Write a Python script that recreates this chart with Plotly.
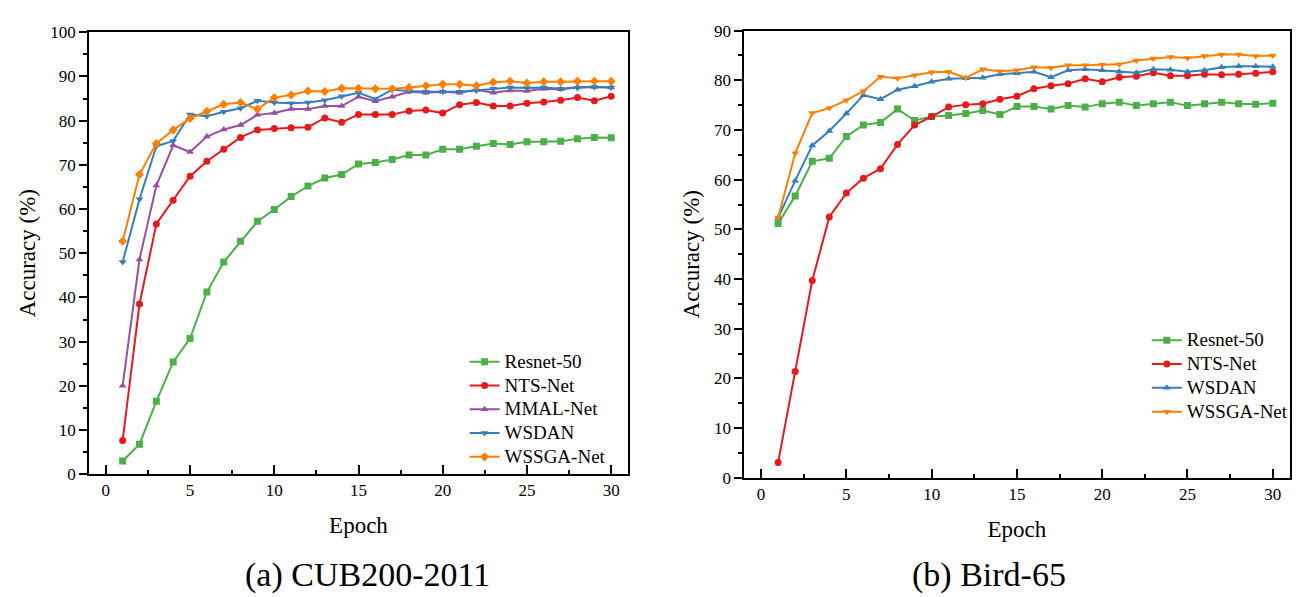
import plotly.graph_objects as go

epochs = list(range(1, 31))

# (a) CUB200-2011
cub_resnet50 = [3.0, 6.8, 16.5, 25.4, 30.7, 41.2, 48.0, 52.7, 57.2, 59.9, 62.8, 65.2, 67.0, 67.8, 70.2,
                70.5, 71.2, 72.2, 72.2, 73.5, 73.5, 74.2, 74.8, 74.6, 75.2, 75.2, 75.3, 75.9, 76.2, 76.1]
cub_nts = [7.6, 38.5, 56.6, 62.0, 67.4, 70.8, 73.5, 76.2, 77.9, 78.2, 78.4, 78.5, 80.6, 79.6, 81.4,
           81.4, 81.4, 82.2, 82.4, 81.7, 83.6, 84.1, 83.3, 83.3, 83.9, 84.2, 84.6, 85.2, 84.5, 85.5]
cub_mmal = [20.0, 48.6, 65.3, 74.4, 72.9, 76.4, 78.0, 79.0, 81.3, 81.7, 82.6, 82.6, 83.3, 83.3, 85.4,
            84.4, 85.4, 86.5, 86.3, 86.5, 86.3, 87.0, 86.3, 86.8, 86.7, 87.2, 87.1, 87.6, 87.6, 87.5]
cub_wsdan = [48.0, 62.2, 74.2, 75.4, 81.4, 81.0, 82.0, 82.8, 84.5, 84.1, 83.9, 84.1, 84.6, 85.5, 86.3,
             84.9, 87.0, 86.7, 86.5, 86.5, 86.5, 86.8, 87.2, 87.5, 87.4, 87.5, 87.2, 87.4, 87.6, 87.5]
cub_wssga = [52.7, 67.8, 74.8, 77.9, 80.5, 82.1, 83.7, 84.1, 82.6, 85.2, 85.8, 86.7, 86.6, 87.3, 87.3,
             87.2, 87.2, 87.5, 87.9, 88.2, 88.2, 87.9, 88.7, 88.9, 88.5, 88.8, 88.8, 88.9, 88.9, 88.9]

# (b) Bird-65
bird_resnet50 = [51.2, 56.7, 63.7, 64.3, 68.7, 71.0, 71.5, 74.2, 71.9, 72.7, 72.9, 73.3, 73.9, 73.1, 74.7,
                 74.7, 74.2, 74.9, 74.6, 75.3, 75.6, 74.9, 75.3, 75.6, 74.9, 75.3, 75.6, 75.3, 75.2, 75.4]
bird_nts = [3.1, 21.4, 39.7, 52.5, 57.3, 60.3, 62.2, 67.1, 71.0, 72.7, 74.6, 75.1, 75.3, 76.2, 76.8,
            78.3, 78.9, 79.3, 80.3, 79.7, 80.6, 80.8, 81.5, 80.9, 80.9, 81.2, 81.1, 81.2, 81.4, 81.7]
bird_wsdan = [52.3, 59.8, 66.9, 69.8, 73.3, 77.0, 76.2, 78.1, 78.8, 79.7, 80.3, 80.4, 80.5, 81.2, 81.4,
              81.7, 80.6, 82.0, 82.2, 82.0, 81.7, 81.5, 82.2, 82.1, 81.7, 82.0, 82.6, 82.8, 82.8, 82.7]
bird_wssga = [52.4, 65.3, 73.4, 74.4, 76.0, 77.8, 80.7, 80.4, 81.0, 81.6, 81.7, 80.5, 82.2, 81.8, 82.0,
              82.6, 82.5, 83.0, 83.0, 83.1, 83.2, 84.0, 84.4, 84.7, 84.5, 84.9, 85.2, 85.2, 84.9, 85.0]

GREEN, RED, PURPLE, BLUE, ORANGE = "#4daf4a", "#e41a1c", "#984ea3", "#377eb8", "#ff7f00"
FONT = "Liberation Serif"


def lg(name):
    return '<span style="font-size:19px">' + name + '</span>'


fig = go.Figure()

left = [("Resnet-50", cub_resnet50, GREEN, "square"),
        ("NTS-Net", cub_nts, RED, "circle"),
        ("MMAL-Net", cub_mmal, PURPLE, "triangle-up"),
        ("WSDAN", cub_wsdan, BLUE, "triangle-down"),
        ("WSSGA-Net", cub_wssga, ORANGE, "diamond")]
for name, ys, col, sym in left:
    fig.add_trace(go.Scatter(x=epochs, y=ys, name=lg(name), mode="lines+markers",
                             line=dict(color=col, width=2),
                             marker=dict(symbol=sym, size=7, color=col),
                             xaxis="x", yaxis="y", legend="legend"))

right = [("Resnet-50", bird_resnet50, GREEN, "square"),
         ("NTS-Net", bird_nts, RED, "circle"),
         ("WSDAN", bird_wsdan, BLUE, "triangle-up"),
         ("WSSGA-Net", bird_wssga, ORANGE, "triangle-down")]
for name, ys, col, sym in right:
    fig.add_trace(go.Scatter(x=epochs, y=ys, name=lg(name), mode="lines+markers",
                             line=dict(color=col, width=2),
                             marker=dict(symbol=sym, size=7, color=col),
                             xaxis="x2", yaxis="y2", legend="legend2"))

xcommon = dict(range=[-1, 31], tickvals=[0, 5, 10, 15, 20, 25, 30], ticks="inside", ticklen=9,
               tickwidth=1.5, tickcolor="black", showline=True, linecolor="black", linewidth=1.5,
               mirror=True, showgrid=False, zeroline=False,
               minor=dict(dtick=2.5, tick0=0, ticks="inside", ticklen=4, tickwidth=1.5, tickcolor="black"),
               tickfont=dict(family=FONT, size=17, color="black"),
               title=dict(text="Epoch", font=dict(family=FONT, size=23, color="black"), standoff=18))
ycommon = dict(ticks="outside", ticklen=8, tickwidth=1.5, tickcolor="black", showline=True,
               linecolor="black", linewidth=1.5, mirror=True, showgrid=False, zeroline=False,
               tickfont=dict(family=FONT, size=17, color="black"),
               title=dict(text="Accuracy (%)", font=dict(family=FONT, size=23, color="black"), standoff=8))

fig.update_layout(
    width=1312, height=597,
    margin=dict(l=0, r=0, t=0, b=0),
    paper_bgcolor="white", plot_bgcolor="white",
    font=dict(family=FONT, color="black"),
    xaxis=dict(domain=[0.0617, 0.4726], anchor="y", **xcommon),
    yaxis=dict(domain=[0.209, 0.9737], anchor="x", range=[0, 100], dtick=10,
               minor=dict(dtick=5, ticks="outside", ticklen=4, tickwidth=1.5, tickcolor="black"),
               **ycommon),
    xaxis2=dict(domain=[0.561, 0.977], anchor="y2", **xcommon),
    yaxis2=dict(domain=[0.2027, 0.9765], anchor="x2", range=[0, 90], dtick=10,
                minor=dict(dtick=5, ticks="outside", ticklen=4, tickwidth=1.5, tickcolor="black"),
                **ycommon),
    legend=dict(x=0.348, y=0.433, xanchor="left", yanchor="top", bgcolor="rgba(0,0,0,0)",
                font=dict(family=FONT, size=16, color="black"), itemwidth=30, tracegroupgap=0),
    legend2=dict(x=0.868, y=0.47, xanchor="left", yanchor="top", bgcolor="rgba(0,0,0,0)",
                 font=dict(family=FONT, size=16, color="black"), itemwidth=30, tracegroupgap=0),
    annotations=[
        dict(text="(a) CUB200-2011", x=0.2737, y=0.034, xref="paper", yref="paper", showarrow=False,
             xanchor="center", yanchor="middle", font=dict(family=FONT, size=34, color="black")),
        dict(text="(b) Bird-65", x=0.748, y=0.034, xref="paper", yref="paper", showarrow=False,
             xanchor="center", yanchor="middle", font=dict(family=FONT, size=34, color="black")),
    ],
)

fig.write_html("out.html")
